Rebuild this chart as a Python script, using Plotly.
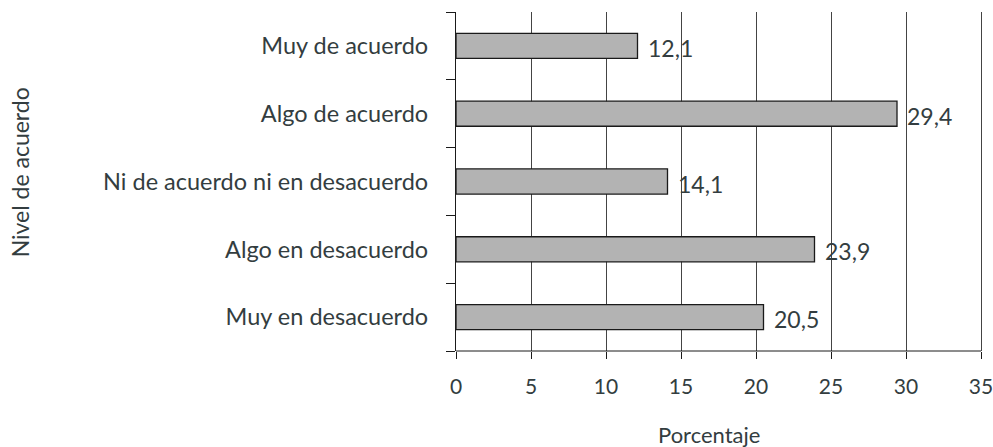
import plotly.graph_objects as go

categories = ["Muy de acuerdo", "Algo de acuerdo", "Ni de acuerdo ni en desacuerdo",
              "Algo en desacuerdo", "Muy en desacuerdo"]
values = [12.1, 29.4, 14.1, 23.9, 20.5]
labels = ["12,1", "29,4", "14,1", "23,9", "20,5"]
x_ticks = [0, 5, 10, 15, 20, 25, 30, 35]

TXT = "#333d40"
FONT = "Lato"

fig = go.Figure()
fig.add_trace(go.Bar(
    y=categories, x=values, orientation="h",
    marker=dict(color="#b3b3b3", line=dict(color="#1a1a1a", width=1.3)),
    width=0.37, hoverinfo="skip",
))

for c, v, t in zip(categories, values, labels):
    fig.add_annotation(x=v, y=c, text=t, showarrow=False, xanchor="left",
                       xshift=8, yshift=-2,
                       font=dict(family=FONT, size=23, color=TXT))

# axis titles placed as free text
fig.add_annotation(xref="paper", yref="paper", x=-436 / 528, y=0.527,
                   xanchor="center", yanchor="middle", textangle=-90,
                   text="Nivel de acuerdo", showarrow=False,
                   font=dict(family=FONT, size=23, color=TXT))
fig.add_annotation(xref="paper", yref="paper", x=253 / 528, y=-83 / 339,
                   xanchor="center", yanchor="middle",
                   text="Porcentaje", showarrow=False,
                   font=dict(family=FONT, size=22, color=TXT))

fig.update_layout(
    width=993, height=447,
    margin=dict(l=456, r=9, t=12, b=96),
    plot_bgcolor="white", paper_bgcolor="white",
    showlegend=False,
    font=dict(family=FONT, color=TXT),
)
fig.update_xaxes(
    range=[0, 35.2], tickvals=x_ticks, ticktext=[str(v) for v in x_ticks],
    showgrid=True, gridcolor="#444444", gridwidth=1,
    showline=False,
    ticks="outside", ticklen=7, tickcolor="#1a1a1a",
    tickfont=dict(family=FONT, size=21, color=TXT),
    ticklabelstandoff=10, ticklabeloverflow="allow",
    zeroline=False, automargin=False,
)
# x-axis baseline spanning 0..35 only, as in the reference
fig.add_shape(type="line", xref="x", yref="paper", x0=x_ticks[0], x1=x_ticks[-1],
              y0=0, y1=0, line=dict(color="#1a1a1a", width=1))
fig.update_yaxes(
    categoryorder="array", categoryarray=categories[::-1],
    range=[-0.5, 4.5],
    showline=True, linecolor="#1a1a1a", linewidth=1.3,
    ticks="outside", tickson="boundaries", ticklen=9, tickcolor="#1a1a1a",
    showgrid=False, automargin=False,
    tickfont=dict(family=FONT, size=23.5, color=TXT),
    ticklabelstandoff=22,
)

fig.write_html("out.html", config={"displayModeBar": False},
               post_script="document.body.style.margin='0';")
